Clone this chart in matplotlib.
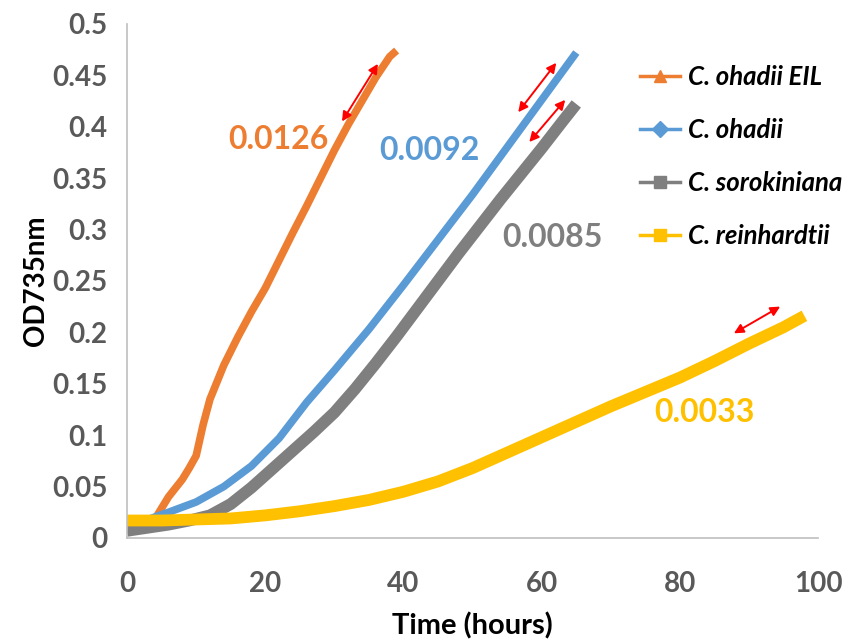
import matplotlib.pyplot as plt
import numpy as np
from matplotlib.lines import Line2D

plt.rcParams['font.family'] = ['Lato', 'DejaVu Sans']

# values
t_eil = [0, 2, 4, 6, 8, 9, 10, 11, 12, 14, 16, 18, 20, 22, 24, 26, 28, 30, 32, 34, 36, 38, 39]
od_eil = [0.016, 0.016, 0.018, 0.040, 0.057, 0.068, 0.080, 0.110, 0.135, 0.168, 0.195, 0.220,
          0.243, 0.270, 0.297, 0.323, 0.350, 0.377, 0.402, 0.425, 0.448, 0.468, 0.474]

t_oha = [0, 1, 3, 6, 10, 14, 18, 22, 26, 30, 35, 40, 45, 50, 55, 60, 65]
od_oha = [0.004, 0.012, 0.018, 0.025, 0.035, 0.050, 0.070, 0.097, 0.132, 0.163, 0.203, 0.246,
          0.290, 0.334, 0.380, 0.426, 0.472]

t_sor = [0, 3, 6, 9, 12, 15, 18, 21, 24, 27, 30, 33, 36, 39, 42, 45, 48, 51, 54, 57, 60, 63, 65]
od_sor = [0.007, 0.010, 0.013, 0.017, 0.022, 0.033, 0.049, 0.067, 0.085, 0.103, 0.122, 0.145,
          0.170, 0.196, 0.223, 0.250, 0.277, 0.303, 0.329, 0.354, 0.379, 0.405, 0.422]

t_rei = [0, 5, 10, 15, 20, 25, 30, 35, 40, 45, 50, 55, 60, 65, 70, 75, 80, 85, 90, 95, 98]
od_rei = [0.017, 0.017, 0.018, 0.019, 0.022, 0.026, 0.031, 0.037, 0.045, 0.055, 0.068, 0.083,
          0.098, 0.113, 0.128, 0.142, 0.156, 0.172, 0.189, 0.205, 0.216]

names = ['C. ohadii EIL', 'C. ohadii', 'C. sorokiniana', 'C. reinhardtii']
colors = ['#ED7D31', '#5B9BD5', '#7F7F7F', '#FFC000']
markers = ['^', 'D', 's', 's']

rates = ['0.0126', '0.0092', '0.0085', '0.0033']
rate_pos = [(21.9, 0.387), (43.8, 0.377), (61.5, 0.292), (83.6, 0.122)]
arrows = [((31.1, 0.405), (36.3, 0.461)),
          ((56.6, 0.414), (62.1, 0.462)),
          ((58.2, 0.385), (63.4, 0.426)),
          ((87.8, 0.199), (94.5, 0.225))]

fig = plt.figure(figsize=(8.47, 6.42), dpi=100)
ax = fig.add_axes([0.150, 0.162, 0.816, 0.801])

series = [(t_eil, od_eil, 5.5), (t_oha, od_oha, 5.5), (t_sor, od_sor, 8.5), (t_rei, od_rei, 8.5)]
for (t, od, lw), c in zip(series, colors):
    ax.plot(t, od, color=c, lw=lw, solid_capstyle='butt', solid_joinstyle='round')

for txt, (x, y), c in zip(rates, rate_pos, colors):
    ax.text(x, y, txt, color=c, fontsize=23, fontweight='bold', ha='center', va='center')

for a, b in arrows:
    ax.annotate('', xy=b, xytext=a,
                arrowprops=dict(arrowstyle='<|-|>', color='red', lw=1.4, mutation_scale=14,
                                shrinkA=0, shrinkB=0))

ax.set_xlim(0, 100)
ax.set_ylim(0, 0.5)
ax.set_xticks(np.arange(0, 101, 20))
ax.set_yticks(np.arange(0, 0.51, 0.05))
ax.set_yticklabels(['0', '0.05', '0.1', '0.15', '0.2', '0.25', '0.3', '0.35', '0.4', '0.45', '0.5'])
for s in ['top', 'right']:
    ax.spines[s].set_visible(False)
for s in ['left', 'bottom']:
    ax.spines[s].set_color('#BFBFBF')
    ax.spines[s].set_linewidth(1.2)
ax.tick_params(length=0, labelsize=20, labelcolor='#595959')
ax.tick_params(axis='x', pad=24)
ax.tick_params(axis='y', pad=14)
for lab in ax.get_xticklabels() + ax.get_yticklabels():
    lab.set_fontweight('bold')

ax.set_xlabel('Time (hours)', fontsize=21, fontweight='bold', labelpad=11)
ax.set_ylabel('OD735nm', fontsize=20, fontweight='bold', labelpad=2)

handles = [Line2D([], [], color=c, lw=2.5, marker=m, markersize=8) for c, m in zip(colors, markers)]
leg = ax.legend(handles, names, loc='upper left', bbox_to_anchor=(0.741, 0.918),
                bbox_transform=fig.transFigure, frameon=False, fontsize=18.5,
                handlelength=1.55, handletextpad=0.3, labelspacing=1.12, borderpad=0)
for txt in leg.get_texts():
    txt.set_fontweight('bold')
    txt.set_fontstyle('italic')

fig.savefig('out.png', dpi=100)
